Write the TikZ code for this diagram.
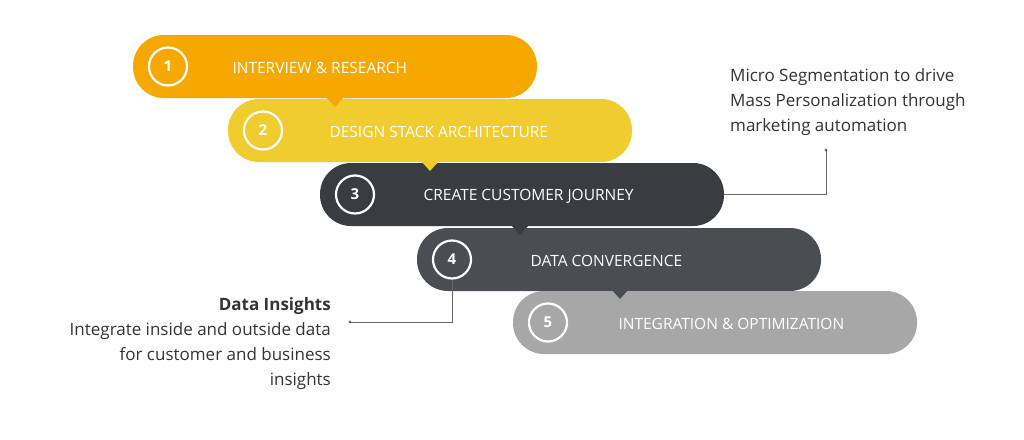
\documentclass[tikz,border=0pt]{standalone}
\usepackage{fontspec}
\setmainfont{Open Sans}
\begin{document}
\begin{tikzpicture}[x=1pt,y=-1pt,
  pill/.style={rounded corners=31pt},
  num/.style={circle,draw=white,line width=2.2pt,minimum size=38pt,inner sep=0pt,text=white,font=\fontsize{15}{15}\selectfont\bfseries},
  lbl/.style={anchor=west,text=white,font=\fontsize{15.5}{16}\selectfont},
  note/.style={font=\fontsize{17}{25}\selectfont,text=black!80,inner sep=0pt},
  lead/.style={draw=black!60,line width=0.8pt}]
\useasboundingbox (0,0) rectangle (1024,439);
\definecolor{c1}{HTML}{F5A800}\definecolor{c2}{HTML}{F0CC2E}
\definecolor{c3}{HTML}{393C41}\definecolor{c4}{HTML}{4A4D52}\definecolor{c5}{HTML}{A7A7A7}
\foreach \i/\x/\y/\c/\tx/\t in {1/133/35/c1/229/INTERVIEW \& RESEARCH,2/228/99/c2/326/DESIGN STACK ARCHITECTURE,3/320/163/c3/420/CREATE CUSTOMER JOURNEY,4/417/228/c4/527/DATA CONVERGENCE,5/513/291/c5/615/INTEGRATION \& OPTIMIZATION}{
  \fill[\c,pill] (\x,\y) rectangle ++(404,63);
  \node[num] (n\i) at (\x+35,\y+31.5) {\i};
  \node[lbl] (t\i) at (\tx,\y+33) {\t};
}
\foreach \x/\y/\c in {335/98/c1,430/162/c2,520/226/c3,620/290/c4}
  \fill[\c] (\x-9,\y-1) -- (\x+9,\y-1) -- (\x,\y+9) -- cycle;
\coordinate (r3) at (724,194);
\coordinate (rd) at (826,150);
\draw[lead] (r3) -- (826,194) -- (rd);
\fill[black!60] (rd) circle (1.6pt);
\node[note,anchor=north west,align=left] (rn) at (730,68) {Micro Segmentation to drive\\Mass Personalization through\\marketing automation};
\coordinate (ld) at (350,322);
\draw[lead] (n4.south) -- (452,322) -- (ld);
\fill[black!60] (ld) circle (1.6pt);
\node[note,anchor=north east,align=right] (ln) at (331,297) {\textbf{Data Insights}\\Integrate inside and outside data\\for customer and business\\insights};
\end{tikzpicture}
\end{document}
